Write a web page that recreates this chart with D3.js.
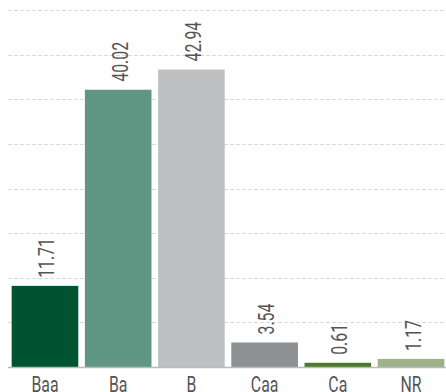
<!DOCTYPE html>
<html>
<head>
<meta charset="utf-8">
<script src="https://cdn.jsdelivr.net/npm/d3@7"></script>
<style>
  body { margin: 0; background: #fff; }
  svg text { font-family: Roboto, "DejaVu Sans", sans-serif; fill: #555; }
</style>
</head>
<body>
<div id="chart"></div>
<script>
var categories = ["Baa", "Ba", "B", "Caa", "Ca", "NR"];
var values = [11.71, 40.02, 42.94, 3.54, 0.61, 1.17];
var colors = ["#00532f", "#5f9684", "#bfc0c2", "#8e9194", "#4a7a2a", "#9db387"];

var width = 446;
var height = 392;
var baseY = 367;
var topY = 10;
var squeeze = 0.72; // narrow the font to look condensed

var svg = d3.select("#chart")
    .append("svg")
    .attr("width", width)
    .attr("height", height);

var x = d3.scaleBand()
    .domain(categories)
    .range([8, 448])
    .paddingInner(0.09)
    .paddingOuter(0.05);

var yMax = d3.max(values) * 1.2;
var y = d3.scaleLinear()
    .domain([0, yMax])
    .range([baseY, topY]);

// 8 equal divisions for the dashed grid
var gridVals = d3.range(1, 9).map(function(i) { return yMax * i / 8; });

svg.selectAll("line.grid")
    .data(gridVals)
    .enter()
    .append("line")
    .attr("class", "grid")
    .attr("x1", 8)
    .attr("x2", width)
    .attr("y1", function(d) { return Math.round(y(d)) + 0.5; })
    .attr("y2", function(d) { return Math.round(y(d)) + 0.5; })
    .attr("stroke", "#dadada")
    .attr("stroke-width", 1)
    .attr("stroke-dasharray", "4,2");

svg.selectAll("rect")
    .data(values)
    .enter()
    .append("rect")
    .attr("x", function(d, i) { return x(categories[i]); })
    .attr("y", function(d) { return y(d); })
    .attr("width", x.bandwidth())
    .attr("height", function(d) { return baseY - y(d); })
    .attr("fill", function(d, i) { return colors[i]; });

// baseline
svg.append("line")
    .attr("x1", 8)
    .attr("x2", width)
    .attr("y1", baseY + 0.5)
    .attr("y2", baseY + 0.5)
    .attr("stroke", "#bbb")
    .attr("stroke-width", 1.5);

svg.selectAll("text.val")
    .data(values)
    .enter()
    .append("text")
    .attr("class", "val")
    .attr("transform", function(d, i) {
        var cx = x(categories[i]) + x.bandwidth() / 2 + 9.5;
        return "translate(" + cx + "," + (y(d) - 8) + ") rotate(-90) scale(" + squeeze + ",1)";
    })
    .attr("font-size", "22px")
    .text(function(d) { return d.toFixed(2); });

var xAxis = svg.append("g")
    .attr("transform", "translate(0," + baseY + ")")
    .call(d3.axisBottom(x).tickSize(0).tickPadding(0));
xAxis.select(".domain").remove();
xAxis.selectAll("text")
    .attr("dy", null)
    .attr("y", 25.5)
    .attr("transform", "scale(" + squeeze + ",1)")
    .attr("font-size", "22px")
    .attr("font-family", null)
    .style("fill", "#555");
</script>
</body>
</html>
